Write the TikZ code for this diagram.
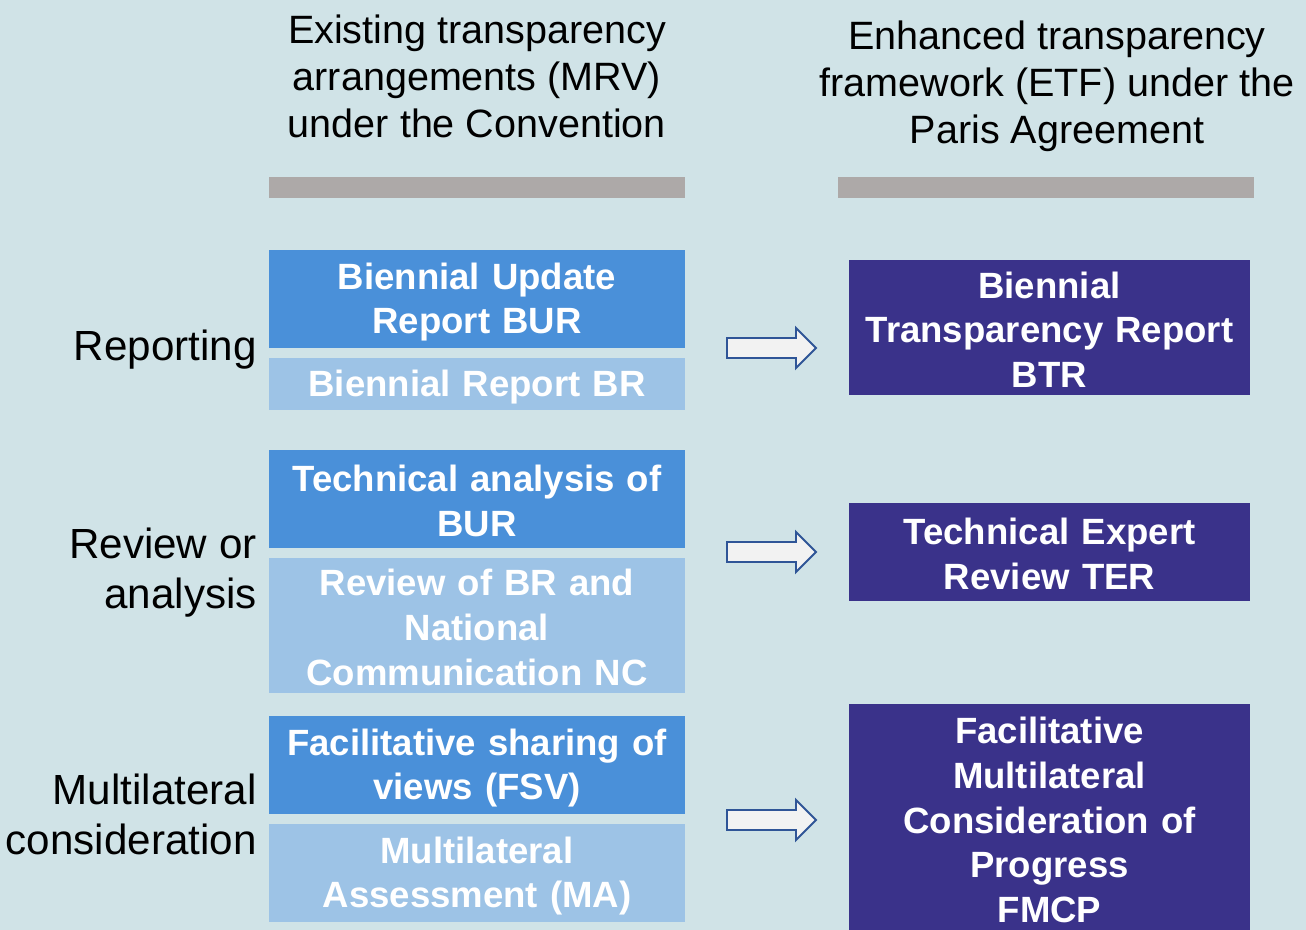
\documentclass[tikz,border=0pt]{standalone}
\usepackage{fontspec}
\setmainfont{Liberation Sans}
\usetikzlibrary{calc}
\definecolor{bgc}{HTML}{D0E3E7}
\definecolor{midblue}{HTML}{4A90D9}
\definecolor{lightblue}{HTML}{9DC3E6}
\definecolor{darkblue}{HTML}{3A328A}
\definecolor{bargray}{HTML}{ADA9A8}
\definecolor{arrowline}{HTML}{2F5597}
\definecolor{arrowfill}{HTML}{F2F2F2}
\tikzset{
  headtext/.style={align=center, font=\fontsize{22.5}{26.8}\selectfont, inner sep=0pt},
  sidelabel/.style={align=right, anchor=east, font=\fontsize{24}{28.4}\selectfont, inner sep=0pt, text depth=0pt},
  box/.style={draw=none, inner sep=0pt, minimum width=8.32cm},
  boxtext/.style={align=center, text=white, font=\bfseries\fontsize{20.8}{25.4}\selectfont, inner sep=0pt, text width=8.1cm},
  midbox/.style={box, fill=midblue},
  lightbox/.style={box, fill=lightblue},
  darkbox/.style={box, fill=darkblue, minimum width=8.02cm},
  bar/.style={fill=bargray, draw=none, minimum width=8.32cm, minimum height=0.42cm, inner sep=0pt},
  blockarrow/.style={draw=arrowline, fill=arrowfill, line width=1.1pt, line join=miter},
}
\begin{document}
\begin{tikzpicture}[x=0.02cm, y=-0.02cm]
\fill[bgc] (0,0) rectangle (1306,930);
\useasboundingbox (0,0) rectangle (1306,930);
\begin{scope}
\clip (0,0) rectangle (1306,930);
% headers
\node[headtext] (hl) at (477,76) {Existing transparency\\arrangements (MRV)\\under the Convention};
\node[headtext] (hr) at (1057,86) {Enhanced transparency\\framework (ETF) under the\\Paris Agreement};
\node[bar] (barl) at (477,187.5) {};
\node[bar] (barr) at (1046,187.5) {};
% side labels
\node[sidelabel] (l1) at (257,345) {Reporting};
\node[sidelabel] (l2) at (257,568) {Review or\\analysis};
\node[sidelabel] (l3) at (257,814) {Multilateral\\consideration};
% left column
\node[midbox, minimum height=1.96cm] (bur) at (477,299) {};
\node[boxtext] (burT) at ($(bur)+(0,3)$) {Biennial Update\\Report BUR};
\node[lightbox, minimum height=1.04cm] (br) at (477,384) {};
\node[boxtext] (brT) at ($(br)+(0,3)$) {Biennial Report BR};
\node[midbox, minimum height=1.96cm] (ta) at (477,499) {};
\node[boxtext] (taT) at ($(ta)+(0,2)$) {Technical analysis of\\BUR};
\node[lightbox, minimum height=2.7cm] (rev) at (477,625.5) {};
\node[boxtext] (revT) at ($(rev)+(0,2)$) {Review of BR and\\National\\Communication NC};
\node[midbox, minimum height=1.96cm] (fsv) at (477,765) {};
\node[boxtext] (fsvT) at ($(fsv)+(0,3)$) {Facilitative sharing of\\views (FSV)};
\node[lightbox, minimum height=1.96cm] (ma) at (477,873) {};
\node[boxtext] (maT) at ($(ma)+(0,3)$) {Multilateral\\Assessment (MA)};
% right column
\node[darkbox, minimum height=2.7cm] (btr) at (1049.5,327.5) {};
\node[boxtext, text width=7.8cm] (btrT) at ($(btr)+(0,2)$) {Biennial\\Transparency Report\\BTR};
\node[darkbox, minimum height=1.96cm] (ter) at (1049.5,552) {};
\node[boxtext, text width=7.8cm] (terT) at ($(ter)+(0,2)$) {Technical Expert\\Review TER};
\node[darkbox, minimum height=4.6cm] (fmcp) at (1049.5,819) {};
\node[boxtext, text width=7.8cm] (fmcpT) at ($(fmcp)+(0,1)$) {Facilitative\\Multilateral\\Consideration of\\Progress\\FMCP};
% block arrows
\coordinate (a1) at (727,348);
\coordinate (a2) at (727,552);
\coordinate (a3) at (727,820);
\foreach \a in {a1,a2,a3}{
  \draw[blockarrow] ($(\a)+(0,-10)$) -- ++(69,0) -- ++(0,-10) -- ++(20,20) -- ++(-20,20) -- ++(0,-10) -- ++(-69,0) -- cycle;
}
\end{scope}
\end{tikzpicture}
\end{document}
